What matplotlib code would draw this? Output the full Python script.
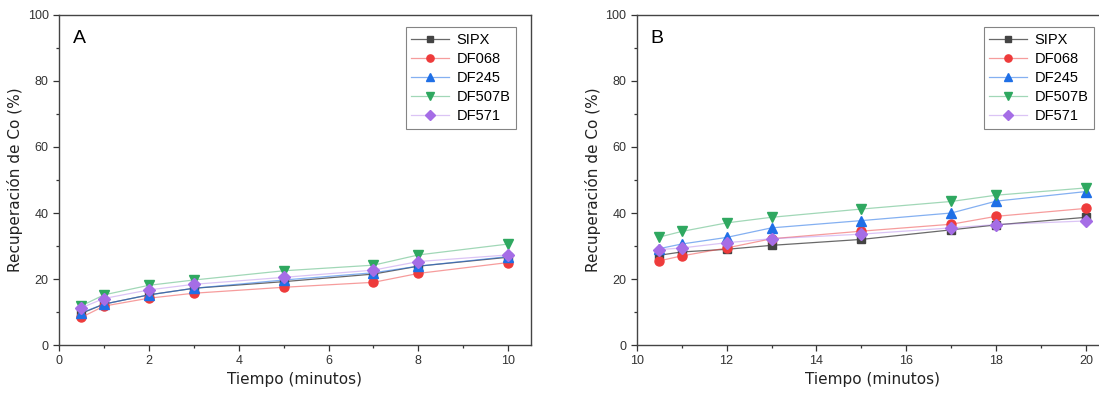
import numpy as np
import matplotlib.pyplot as plt
from matplotlib.colors import to_rgba
from matplotlib.ticker import MultipleLocator

# Tiempos (minutos)
t_a = [0.5, 1, 2, 3, 5, 7, 8, 10]
t_b = [10.5, 11, 12, 13, 15, 17, 18, 20]

series = ['SIPX', 'DF068', 'DF245', 'DF507B', 'DF571']

# Panel A - recuperacion de Co (%)
sipx_a = [9.6, 12.4, 15.2, 17.2, 19.2, 21.5, 23.9, 26.6]
df068_a = [8.4, 11.8, 14.2, 15.7, 17.5, 19.0, 21.7, 25.0]
df245_a = [9.8, 12.4, 15.2, 17.2, 19.7, 21.9, 23.9, 26.8]
df507b_a = [11.9, 15.2, 18.1, 19.7, 22.5, 24.2, 27.3, 30.6]
df571_a = [11.3, 14.1, 16.7, 18.4, 20.5, 22.7, 25.3, 27.3]

# Panel B
sipx_b = [27.2, 28.2, 29.0, 30.2, 32.0, 34.9, 36.4, 38.7]
df068_b = [25.5, 27.0, 29.4, 32.2, 34.5, 36.6, 39.0, 41.4]
df245_b = [29.2, 30.6, 32.6, 35.5, 37.7, 40.0, 43.6, 46.5]
df507b_b = [32.7, 34.4, 37.0, 38.7, 41.2, 43.5, 45.4, 47.6]
df571_b = [28.9, 29.4, 31.0, 32.2, 33.6, 35.5, 36.5, 37.6]

colors = ['#444444', '#ee3b3b', '#1f6fe6', '#2fa860', '#a56de6']
line_alpha = [0.8, 0.5, 0.55, 0.45, 0.4]
markers = ['s', 'o', '^', 'v', 'D']
msizes = [5.5, 6.5, 6.5, 6.5, 6.5]

fig = plt.figure(figsize=(10.99, 3.93), dpi=100)
axA = fig.add_axes([0.0537, 0.122, 0.4292, 0.840])
axB = fig.add_axes([0.5793, 0.122, 0.4295, 0.840])


def draw(ax, t, data, xlim, letter):
    for name, y, c, a, m, ms in zip(series, data, colors, line_alpha,
                                     markers, msizes):
        ax.plot(t, y, color=to_rgba(c, a), lw=0.9, marker=m, ms=ms,
                mfc=c, mec=c, label=name)
    ax.set_xlim(*xlim)
    ax.set_ylim(0, 100)
    ax.xaxis.set_major_locator(MultipleLocator(2))
    ax.xaxis.set_minor_locator(MultipleLocator(1))
    ax.yaxis.set_major_locator(MultipleLocator(20))
    ax.yaxis.set_minor_locator(MultipleLocator(10))
    ax.tick_params(which='major', length=4, width=0.9, labelsize=9,
                   colors='#333333')
    ax.tick_params(which='minor', length=2.5, width=0.9, colors='#333333')
    for lab in ax.get_xticklabels() + ax.get_yticklabels():
        lab.set_fontfamily('Liberation Sans')
    for s in ax.spines.values():
        s.set_color('#444444')
        s.set_linewidth(1.0)
    ax.set_xlabel('Tiempo (minutos)', fontsize=11, color='#222222', labelpad=3)
    ax.set_ylabel('Recuperación de Co (%)', fontsize=11, color='#222222',
                  labelpad=3)
    ax.text(0.03, 0.955, letter, transform=ax.transAxes, fontsize=14,
            va='top', ha='left', family='Liberation Sans')
    leg = ax.legend(loc='upper right', bbox_to_anchor=(0.985, 0.985),
                    prop={'family': 'Liberation Sans', 'size': 10.5},
                    frameon=True, fancybox=False, edgecolor='#666666',
                    handlelength=2.6, handletextpad=0.5, labelspacing=0.35,
                    borderpad=0.4, markerscale=0.8)
    leg.get_frame().set_linewidth(0.8)


draw(axA, t_a, [sipx_a, df068_a, df245_a, df507b_a, df571_a], (0, 10.5), 'A')
draw(axB, t_b, [sipx_b, df068_b, df245_b, df507b_b, df571_b], (10, 20.5), 'B')

fig.savefig('out.png', dpi=100)
